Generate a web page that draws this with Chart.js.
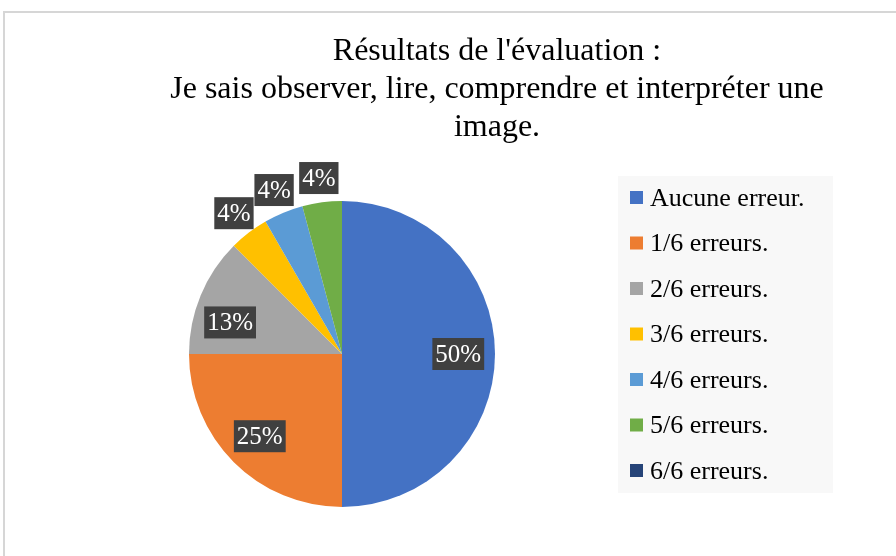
<!DOCTYPE html>
<html>
<head>
<meta charset="utf-8">
<script src="https://cdn.jsdelivr.net/npm/chart.js@4"></script>
<style>
html, body { margin: 0; padding: 0; background: #fff; overflow: hidden; }
#frame { position: absolute; left: 3px; top: 11px; width: 1000px; height: 700px; border: 2px solid #d6d6d6; box-sizing: border-box; }
#wrap { position: absolute; left: 0; top: 0; width: 896px; height: 556px; }
</style>
</head>
<body>
<div id="frame"></div>
<div id="wrap"><canvas id="evalPie" width="896" height="556"></canvas></div>
<script>
// données (nombre d'élèves)
var categories = ['Aucune erreur.', '1/6 erreurs.', '2/6 erreurs.', '3/6 erreurs.', '4/6 erreurs.', '5/6 erreurs.', '6/6 erreurs.'];
var counts = [12, 6, 3, 1, 1, 1, 0];
var sliceColors = ['#4472C4', '#ED7D31', '#A5A5A5', '#FFC000', '#5B9BD5', '#70AD47', '#264478'];
var titleLines = ["Résultats de l'évaluation :", 'Je sais observer, lire, comprendre et interpréter une', 'image.'];

var serif = '"Liberation Serif", "Times New Roman", serif';

// titre, légende et étiquettes dessinés à la façon d'Excel
var excelLook = {
  id: 'excelLook',
  afterDraw: function (chart) {
    var ctx = chart.ctx;
    var data = chart.data.datasets[0].data;
    var colors = chart.data.datasets[0].backgroundColor;
    var total = data.reduce(function (a, b) { return a + b; }, 0);
    ctx.save();

    // titre
    ctx.fillStyle = '#000';
    ctx.font = '32px ' + serif;
    ctx.textAlign = 'center';
    ctx.textBaseline = 'middle';
    titleLines.forEach(function (line, i) {
      ctx.fillText(line, 497, 52 + i * 38);
    });

    // légende
    ctx.fillStyle = '#f8f8f8';
    ctx.fillRect(618, 176, 215, 317);
    ctx.font = '26px ' + serif;
    ctx.textAlign = 'left';
    chart.data.labels.forEach(function (lab, i) {
      var y = 191 + i * 45.5;
      ctx.fillStyle = colors[i];
      ctx.fillRect(630, y, 13, 13);
      ctx.fillStyle = '#000';
      ctx.fillText(lab, 650, y + 8);
    });

    // étiquettes de pourcentage
    ctx.font = '25px ' + serif;
    ctx.textAlign = 'center';
    chart.getDatasetMeta(0).data.forEach(function (arc, i) {
      if (!data[i]) return;
      var frac = data[i] / total;
      var mid = (arc.startAngle + arc.endAngle) / 2;
      var k = frac >= 0.1 ? 0.76 : 1.16;
      // Excel rapproche un peu les petites parts intérieures de l'horizontale
      if (frac < 0.2 && frac >= 0.1) mid = mid - (mid - Math.PI) * 0.3;
      var x = arc.x + Math.cos(mid) * arc.outerRadius * k;
      var y = arc.y + Math.sin(mid) * arc.outerRadius * k;
      var txt = Math.round(frac * 100) + '%';
      var w = ctx.measureText(txt).width + 6;
      ctx.fillStyle = '#404040';
      ctx.fillRect(x - w / 2, y - 16, w, 32);
      ctx.fillStyle = '#fff';
      ctx.fillText(txt, x, y + 1);
    });
    ctx.restore();
  }
};

var context = document.getElementById('evalPie').getContext('2d');
var myChart = new Chart(context, {
  type: 'pie',
  data: {
    labels: categories,
    datasets: [{
      data: counts,
      backgroundColor: sliceColors,
      borderWidth: 0
    }]
  },
  options: {
    responsive: false,
    animation: false,
    layout: { padding: { left: 189, right: 401, top: 201, bottom: 49 } },
    plugins: {
      legend: { display: false },
      tooltip: { enabled: false }
    }
  },
  plugins: [excelLook]
});
</script>
</body>
</html>
